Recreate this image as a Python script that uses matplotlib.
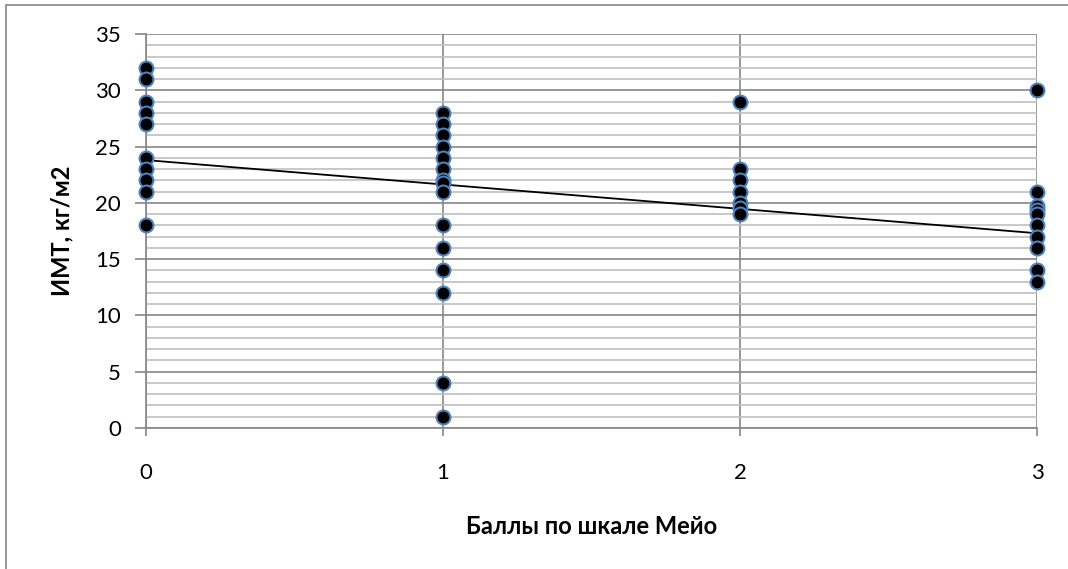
import matplotlib
matplotlib.use('Agg')
import matplotlib.pyplot as plt
from matplotlib.patches import Rectangle
import numpy as np

plt.rcParams['font.family'] = ['Lato', 'Open Sans', 'DejaVu Sans']

# Scores on the Mayo scale and BMI values
mayo_0 = [32, 31, 29, 28, 27, 24, 23, 22, 21, 18]
mayo_1 = [28, 27, 26, 25, 24, 23, 22, 21.8, 21, 18, 16, 14, 12, 4, 1]
mayo_2 = [29, 23, 22, 21, 20, 19.5, 19]
mayo_3 = [30, 21, 19.7, 19.4, 19, 18, 17, 16, 14, 13]

# Linear trend line
trend_x = [0, 3]
trend_y = [23.8, 17.3]

x_ticks = [0, 1, 2, 3]
y_ticks = [0, 5, 10, 15, 20, 25, 30, 35]

fig = plt.figure(figsize=(10.68, 5.69), dpi=100)
W, H = 1068, 569
ax = fig.add_axes([146 / W, 1 - 428 / H, (1037 - 146) / W, (428 - 34) / H])

# outer chart border (right and bottom edges fall outside the image)
fig.patches.append(Rectangle((6 / W, -0.1), 1.2, 1.1 - 5 / H, transform=fig.transFigure,
                             fill=False, edgecolor='#868686', linewidth=1.2))

xs, ys = [], []
for score, vals in zip(x_ticks, [mayo_0, mayo_1, mayo_2, mayo_3]):
    xs += [score] * len(vals)
    ys += vals

ax.plot(trend_x, trend_y, color='black', linewidth=1.3, zorder=3)
ax.scatter(xs, ys, s=100, facecolor='black', edgecolor='#4F81BD', linewidth=1.5,
           zorder=4, clip_on=False)

ax.set_xlim(0, 3)
ax.set_ylim(0, 35)
ax.set_xticks(x_ticks)
ax.set_yticks(y_ticks)
ax.set_yticks(np.arange(0, 36, 1), minor=True)
ax.grid(which='minor', axis='y', color='#BFBFBF', linewidth=1.2, zorder=0)
ax.grid(which='major', axis='y', color='#868686', linewidth=1.2, zorder=1)
ax.grid(which='major', axis='x', color='#868686', linewidth=1.2, zorder=1)
ax.set_axisbelow(True)

for side in ['top', 'right']:
    ax.spines[side].set_visible(False)
for side in ['left', 'bottom']:
    ax.spines[side].set_color('#868686')
    ax.spines[side].set_linewidth(1.2)

ax.tick_params(axis='y', which='major', length=8, width=1.2, color='#868686',
               labelsize=16, pad=10)
ax.tick_params(axis='y', which='minor', length=0)
ax.tick_params(axis='x', which='major', length=6, width=1.2, color='#868686',
               labelsize=16, pad=19)

ax.set_xlabel('Баллы по шкале Мейо', fontsize=17, fontweight='bold', labelpad=23)
# y label centred at about x=62 px, like the reference
ax.set_ylabel('ИМТ, кг/м2', fontsize=17, fontweight='bold',
              rotation_mode='default', va='center', ha='center')
ax.yaxis.set_label_coords((62 - 146) / 891, 0.5)

fig.savefig('out.png', dpi=100)
